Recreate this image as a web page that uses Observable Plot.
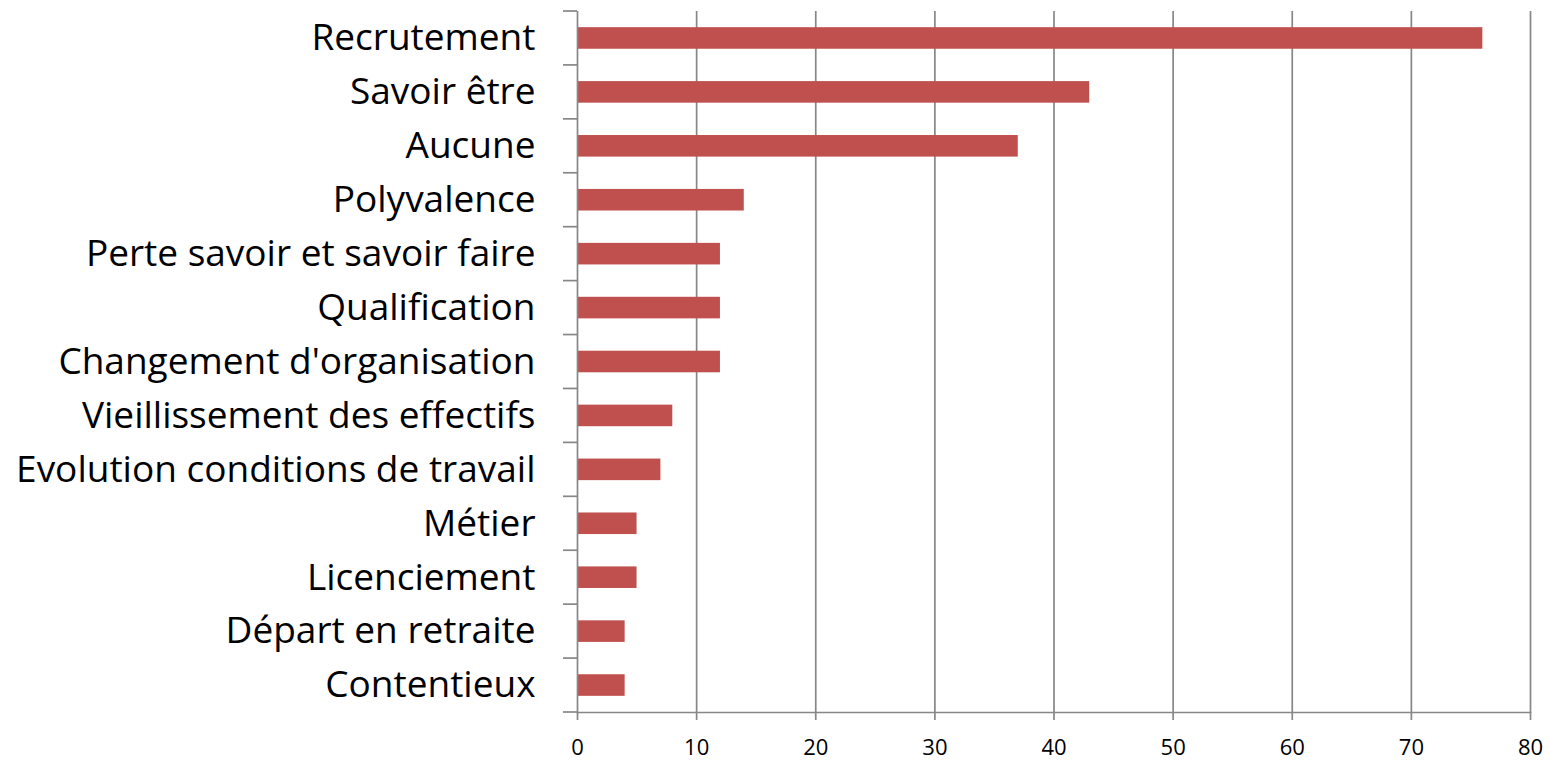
<!DOCTYPE html>
<html><head><meta charset="utf-8">
<script src="https://cdn.jsdelivr.net/npm/d3@7"></script>
<script src="https://cdn.jsdelivr.net/npm/@observablehq/plot@0.6"></script>
<style>
body{margin:0;background:#fff;}
#chart svg{display:block;}
</style>
</head><body><div id="chart"></div>
<script>
const categories = ["Recrutement","Savoir être","Aucune","Polyvalence","Perte savoir et savoir faire","Qualification","Changement d'organisation","Vieillissement des effectifs","Evolution conditions de travail","Métier","Licenciement","Départ en retraite","Contentieux"];
const values = [76,43,37,14,12,12,12,8,7,5,5,4,4];
const xTicks = [0,10,20,30,40,50,60,70,80];

const data = categories.map((c,i)=>({cat:c, v:values[i]}));
const gridColor = "#878787";

const bandTicks = (index, scales, values, dims) => {
  const g = d3.create("svg:g");
  const y = scales.y, x0 = scales.x(0);
  const step = y.step ? y.step() : y.bandwidth();
  const bw = y.bandwidth();
  const doms = y.domain();
  const bounds = doms.map(d => y(d) - (step - bw)/2);
  bounds.push(y(doms[doms.length-1]) + bw + (step-bw)/2);
  for (const b of bounds) {
    g.append("line").attr("x1", x0-14).attr("x2", x0).attr("y1", b).attr("y2", b)
     .attr("stroke", gridColor).attr("stroke-width", 1.7);
  }
  return g.node();
};

const chart = Plot.plot({
  width: 1550, height: 765,
  marginLeft: 577, marginRight: 20, marginTop: 11, marginBottom: 53,
  style: {fontFamily: "'Open Sans', sans-serif", fontSize: "22px", background: "#fff"},
  x: {domain: [0,80], ticks: xTicks, label: null},
  y: {domain: categories, paddingInner: 0.6, paddingOuter: 0.3, round: false, label: null},
  marks: [
    Plot.ruleX(xTicks.filter(d=>d>0), {stroke: gridColor, strokeWidth: 1.7, strokeOpacity: 1}),
    Plot.barX(data, {x: "v", y: "cat", fill: "#C0504D"}),
    Plot.ruleX([0], {stroke: gridColor, strokeWidth: 1.7}),
    Plot.frame({anchor: "bottom", stroke: gridColor, strokeWidth: 1.7}),
    bandTicks,
    Plot.axisX({ticks: xTicks, tickSize: 8, tickPadding: 19, fontSize: 22, stroke: gridColor, strokeWidth: 1.7, label: null, fill:"#000"}),
    Plot.axisY({tickSize: 0, tickPadding: 42, fontSize: 37, fill: "#000", label: null})
  ]
});
document.getElementById("chart").append(chart);
</script>
</body></html>
